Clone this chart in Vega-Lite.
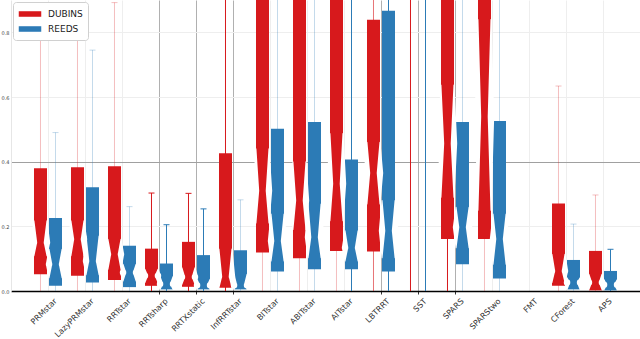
{
  "$schema": "https://vega.github.io/schema/vega-lite/v6.json",
  "width": 629,
  "height": 291,
  "autosize": {"type": "none"},
  "padding": {"left": 11, "top": 0, "right": 0, "bottom": 48},
  "config": {"view": {"stroke": null}, "font": "DejaVu Sans"},
  "data": {"values": [
    {"algorithm": "PRMstar", "planner": "DUBINS", "wlo": 0, "whi": 0.80, "q1": 0.052, "nlo": 0.109, "med": 0.15, "nhi": 0.217, "q3": 0.38},
    {"algorithm": "PRMstar", "planner": "REEDS", "wlo": 0, "whi": 0.49, "q1": 0.016, "nlo": 0.041, "med": 0.083, "nhi": 0.129, "q3": 0.226},
    {"algorithm": "LazyPRMstar", "planner": "DUBINS", "wlo": 0, "whi": 0.788, "q1": 0.047, "nlo": 0.109, "med": 0.16, "nhi": 0.217, "q3": 0.383},
    {"algorithm": "LazyPRMstar", "planner": "REEDS", "wlo": 0, "whi": 0.745, "q1": 0.026, "nlo": 0.05, "med": 0.093, "nhi": 0.17, "q3": 0.321},
    {"algorithm": "RRTstar", "planner": "DUBINS", "wlo": 0, "whi": 0.892, "q1": 0.034, "nlo": 0.067, "med": 0.114, "nhi": 0.16, "q3": 0.386},
    {"algorithm": "RRTstar", "planner": "REEDS", "wlo": 0, "whi": 0.261, "q1": 0.012, "nlo": 0.031, "med": 0.057, "nhi": 0.083, "q3": 0.14},
    {"algorithm": "RRTsharp", "planner": "DUBINS", "wlo": 0, "whi": 0.303, "q1": 0.016, "nlo": 0.026, "med": 0.047, "nhi": 0.067, "q3": 0.131},
    {"algorithm": "RRTsharp", "planner": "REEDS", "wlo": 0, "whi": 0.205, "q1": 0.005, "nlo": 0.005, "med": 0.022, "nhi": 0.045, "q3": 0.085},
    {"algorithm": "RRTXstatic", "planner": "DUBINS", "wlo": 0, "whi": 0.302, "q1": 0.013, "nlo": 0.021, "med": 0.043, "nhi": 0.072, "q3": 0.152},
    {"algorithm": "RRTXstatic", "planner": "REEDS", "wlo": 0, "whi": 0.254, "q1": 0.005, "nlo": 0.005, "med": 0.018, "nhi": 0.036, "q3": 0.111},
    {"algorithm": "InfRRTstar", "planner": "DUBINS", "wlo": 0, "whi": 1.2, "q1": 0.01, "nlo": 0.01, "med": 0.045, "nhi": 0.13, "q3": 0.426},
    {"algorithm": "InfRRTstar", "planner": "REEDS", "wlo": 0, "whi": 0.282, "q1": 0.005, "nlo": 0.005, "med": 0.018, "nhi": 0.052, "q3": 0.126},
    {"algorithm": "BITstar", "planner": "DUBINS", "wlo": 0, "whi": 1.2, "q1": 0.119, "nlo": 0.21, "med": 0.31, "nhi": 0.44, "q3": 1.2},
    {"algorithm": "BITstar", "planner": "REEDS", "wlo": 0, "whi": 1.2, "q1": 0.06, "nlo": 0.093, "med": 0.155, "nhi": 0.238, "q3": 0.502},
    {"algorithm": "ABITstar", "planner": "DUBINS", "wlo": 0, "whi": 1.2, "q1": 0.101, "nlo": 0.19, "med": 0.28, "nhi": 0.40, "q3": 1.2},
    {"algorithm": "ABITstar", "planner": "REEDS", "wlo": 0, "whi": 1.2, "q1": 0.067, "nlo": 0.103, "med": 0.166, "nhi": 0.269, "q3": 0.523},
    {"algorithm": "AITstar", "planner": "DUBINS", "wlo": 0, "whi": 1.2, "q1": 0.124, "nlo": 0.217, "med": 0.332, "nhi": 0.487, "q3": 1.2},
    {"algorithm": "AITstar", "planner": "REEDS", "wlo": 0, "whi": 1.2, "q1": 0.067, "nlo": 0.093, "med": 0.134, "nhi": 0.186, "q3": 0.407},
    {"algorithm": "LBTRRT", "planner": "DUBINS", "wlo": 0, "whi": 1.2, "q1": 0.122, "nlo": 0.269, "med": 0.365, "nhi": 0.46, "q3": 0.839},
    {"algorithm": "LBTRRT", "planner": "REEDS", "wlo": 0, "whi": 1.2, "q1": 0.06, "nlo": 0.103, "med": 0.186, "nhi": 0.28, "q3": 0.867},
    {"algorithm": "SST", "planner": "DUBINS", "wlo": 0, "whi": 1.2, "q1": null, "nlo": null, "med": null, "nhi": null, "q3": null},
    {"algorithm": "SST", "planner": "REEDS", "wlo": 0, "whi": 1.2, "q1": null, "nlo": null, "med": null, "nhi": null, "q3": null},
    {"algorithm": "SPARS", "planner": "DUBINS", "wlo": 0, "whi": 1.2, "q1": 0.161, "nlo": 0.29, "med": 0.456, "nhi": 0.637, "q3": 1.2},
    {"algorithm": "SPARS", "planner": "REEDS", "wlo": 0, "whi": 1.2, "q1": 0.083, "nlo": 0.134, "med": 0.197, "nhi": 0.259, "q3": 0.523},
    {"algorithm": "SPARStwo", "planner": "DUBINS", "wlo": 0, "whi": 1.2, "q1": 0.161, "nlo": 0.25, "med": 0.54, "nhi": 0.84, "q3": 1.2},
    {"algorithm": "SPARStwo", "planner": "REEDS", "wlo": 0, "whi": 1.2, "q1": 0.039, "nlo": 0.083, "med": 0.161, "nhi": 0.238, "q3": 0.526},
    {"algorithm": "CForest", "planner": "DUBINS", "wlo": 0, "whi": 0.634, "q1": 0.016, "nlo": 0.026, "med": 0.062, "nhi": 0.114, "q3": 0.271},
    {"algorithm": "CForest", "planner": "REEDS", "wlo": 0, "whi": 0.207, "q1": 0.005, "nlo": 0.005, "med": 0.026, "nhi": 0.041, "q3": 0.096},
    {"algorithm": "APS", "planner": "DUBINS", "wlo": 0, "whi": 0.297, "q1": 0.002, "nlo": 0.005, "med": 0.026, "nhi": 0.052, "q3": 0.124},
    {"algorithm": "APS", "planner": "REEDS", "wlo": 0, "whi": 0.129, "q1": 0.002, "nlo": 0.004, "med": 0.019, "nhi": 0.035, "q3": 0.062}
  ]},
  "encoding": {
    "x": {
      "field": "algorithm", "type": "nominal",
      "scale": {"domain": ["PRMstar","LazyPRMstar","RRTstar","RRTsharp","RRTXstatic","InfRRTstar","BITstar","ABITstar","AITstar","LBTRRT","SST","SPARS","SPARStwo","FMT","CForest","APS"], "paddingInner": 0, "paddingOuter": 0.5},
      "axis": {
        "title": null, "bandPosition": 0.5, "grid": true,
        "gridColor": {"condition": {"test": "indexof(['RRTsharp','RRTXstatic','InfRRTstar','LBTRRT','SST','SPARS'], datum.value) >= 0", "value": "#b0b0b0"}, "value": "#eeeeee"},
        "ticks": true, "tickSize": 3,
        "tickColor": {"condition": {"test": "indexof(['RRTsharp','RRTXstatic','InfRRTstar','LBTRRT','SST','SPARS'], datum.value) >= 0", "value": "#333333"}, "value": "transparent"},
        "domainColor": "#000000", "domainWidth": 1.5,
        "labelAngle": -45, "labelAlign": "right", "labelBaseline": "top", "labelOffset": 5,
        "labelFontSize": 8, "labelColor": "#333333", "labelPadding": 3
      }
    },
    "y": {"scale": {"domain": [0, 0.9], "nice": false, "zero": true}}
  },
  "layer": [
    {
      "mark": {"type": "rule", "strokeWidth": 1, "clip": true},
      "encoding": {
        "xOffset": {"field": "planner", "scale": {"domain": ["DUBINS","REEDS"], "paddingInner": 0, "paddingOuter": 0.233}},
        "y": {"field": "wlo", "type": "quantitative",
          "axis": {"title": null, "values": [0,0.1,0.2,0.3,0.4,0.5,0.6,0.7,0.8,0.9], "format": ".1f", "labelFontSize": 5, "labelColor": "#444444", "ticks": false, "labelPadding": 2, "domainColor": "#e6e6e6",
            "grid": true,
            "gridColor": {"condition": {"test": "abs(datum.value-0.1)<0.001 || abs(datum.value-0.4)<0.001", "value": "#a0a0a0"}, "value": "#eeeeee"}}},
        "y2": {"field": "whi"},
        "color": {"field": "planner", "type": "nominal", "scale": {"domain": ["DUBINS","REEDS"], "range": ["#d7191c","#2c7bb6"]}, "legend": {"title": null, "orient": "top-left", "offset": 2, "fillColor": "white", "strokeColor": "#d0d0d0", "cornerRadius": 3, "padding": 5, "symbolType": "M-1.75,-0.35H1.75V0.35H-1.75Z", "symbolStrokeWidth": 1.5, "symbolSize": 144, "symbolOffset": 5, "labelFontSize": 9, "labelColor": "#222222", "rowPadding": 2, "labelOffset": 11}},
        "opacity": {"condition": [
          {"test": "indexof(['RRTsharp|DUBINS','RRTsharp|REEDS','RRTXstatic|DUBINS','RRTXstatic|REEDS','InfRRTstar|DUBINS','AITstar|REEDS','LBTRRT|REEDS','SST|DUBINS','SST|REEDS','SPARS|DUBINS','APS|REEDS'], datum.algorithm + '|' + datum.planner) >= 0", "value": 1},
          {"test": "datum.algorithm == 'LBTRRT' && datum.planner == 'DUBINS'", "value": 0.6}
        ], "value": 0.28}
      }
    },
    {
      "mark": {"type": "tick", "thickness": 1, "size": 6, "clip": true},
      "encoding": {
        "xOffset": {"field": "planner", "scale": {"domain": ["DUBINS","REEDS"], "paddingInner": 0, "paddingOuter": 0.233}},
        "y": {"field": "whi", "type": "quantitative"},
        "color": {"field": "planner", "type": "nominal", "scale": {"domain": ["DUBINS","REEDS"], "range": ["#d7191c","#2c7bb6"]}},
        "opacity": {"condition": [
          {"test": "indexof(['RRTsharp|DUBINS','RRTsharp|REEDS','RRTXstatic|DUBINS','RRTXstatic|REEDS','InfRRTstar|DUBINS','AITstar|REEDS','LBTRRT|REEDS','SST|DUBINS','SST|REEDS','SPARS|DUBINS','APS|REEDS'], datum.algorithm + '|' + datum.planner) >= 0", "value": 1},
          {"test": "datum.algorithm == 'LBTRRT' && datum.planner == 'DUBINS'", "value": 0.6}
        ], "value": 0.28}
      }
    },
    {
      "transform": [{"filter": "datum.q1 != null"}],
      "mark": {"type": "bar", "width": 13, "clip": true},
      "encoding": {
        "xOffset": {"field": "planner", "scale": {"domain": ["DUBINS","REEDS"], "paddingInner": 0, "paddingOuter": 0.233}},
        "y": {"field": "q1", "type": "quantitative"},
        "y2": {"field": "q3"},
        "color": {"field": "planner", "type": "nominal", "scale": {"domain": ["DUBINS","REEDS"], "range": ["#d7191c","#2c7bb6"]}}
      }
    },
    {
      "transform": [{"filter": "datum.q1 != null && datum.planner == 'DUBINS'"}, {"fold": ["nlo","med","nhi"], "as": ["stat","v"]}],
      "mark": {"type": "trail", "color": "white", "xOffset": -14.05, "clip": true},
      "encoding": {
        "y": {"field": "v", "type": "quantitative"},
        "size": {"field": "stat", "type": "ordinal", "scale": {"type": "ordinal", "domain": ["nlo","med","nhi"], "range": [0, 6.5, 0]}, "legend": null},
        "order": {"field": "v", "type": "quantitative"},
        "detail": {"field": "algorithm"}
      }
    },
    {
      "transform": [{"filter": "datum.q1 != null && datum.planner == 'DUBINS'"}, {"fold": ["nlo","med","nhi"], "as": ["stat","v"]}],
      "mark": {"type": "trail", "color": "white", "xOffset": -1.05, "clip": true},
      "encoding": {
        "y": {"field": "v", "type": "quantitative"},
        "size": {"field": "stat", "type": "ordinal", "scale": {"type": "ordinal", "domain": ["nlo","med","nhi"], "range": [0, 6.5, 0]}, "legend": null},
        "order": {"field": "v", "type": "quantitative"},
        "detail": {"field": "algorithm"}
      }
    },
    {
      "transform": [{"filter": "datum.q1 != null && datum.planner == 'REEDS'"}, {"fold": ["nlo","med","nhi"], "as": ["stat","v"]}],
      "mark": {"type": "trail", "color": "white", "xOffset": 1.05, "clip": true},
      "encoding": {
        "y": {"field": "v", "type": "quantitative"},
        "size": {"field": "stat", "type": "ordinal", "scale": {"type": "ordinal", "domain": ["nlo","med","nhi"], "range": [0, 6.5, 0]}, "legend": null},
        "order": {"field": "v", "type": "quantitative"},
        "detail": {"field": "algorithm"}
      }
    },
    {
      "transform": [{"filter": "datum.q1 != null && datum.planner == 'REEDS'"}, {"fold": ["nlo","med","nhi"], "as": ["stat","v"]}],
      "mark": {"type": "trail", "color": "white", "xOffset": 14.05, "clip": true},
      "encoding": {
        "y": {"field": "v", "type": "quantitative"},
        "size": {"field": "stat", "type": "ordinal", "scale": {"type": "ordinal", "domain": ["nlo","med","nhi"], "range": [0, 6.5, 0]}, "legend": null},
        "order": {"field": "v", "type": "quantitative"},
        "detail": {"field": "algorithm"}
      }
    }
  ]
}
